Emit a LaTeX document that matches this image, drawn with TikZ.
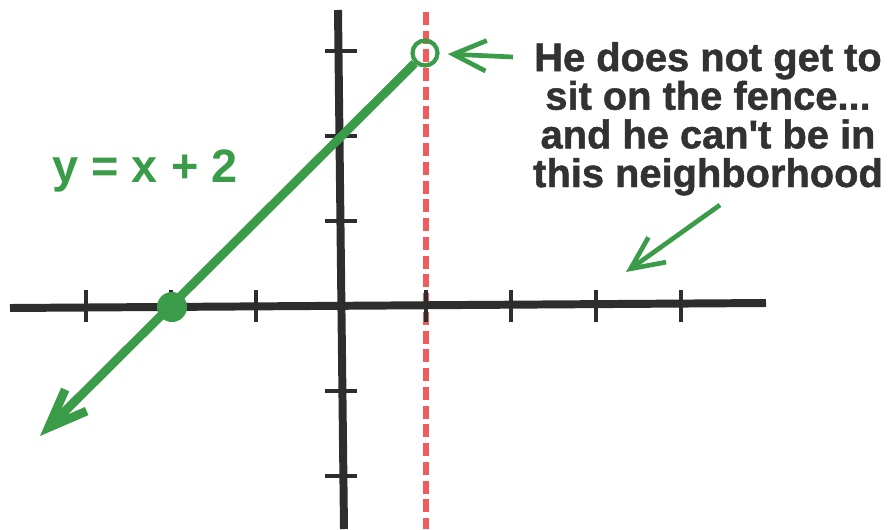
\documentclass[tikz,border=0pt]{standalone}
\usepackage{xcolor}
\usepackage{fontspec}
\setmainfont{Liberation Sans}
\newfontfamily\notefont{Liberation Sans Bold}[FakeBold=1.2]
\usetikzlibrary{arrows.meta}

\definecolor{graphgreen}{RGB}{58,155,72}
\definecolor{fencered}{RGB}{240,92,92}
\definecolor{axisgray}{RGB}{45,45,45}
\definecolor{notegray}{RGB}{50,50,50}

\begin{document}
\begin{tikzpicture}[x=0.03cm, y=-0.03cm,
  axis/.style={draw=axisgray, line width=6.8pt},
  tickmark/.style={draw=axisgray, line width=3.3pt},
  fence/.style={draw=fencered, line width=4.8pt, dash pattern=on 11pt off 5pt},
  graphline/.style={draw=graphgreen, line width=7.5pt},
  pointer/.style={draw=graphgreen, line width=4pt, -{Straight Barb[length=28pt, width=26pt]}}]
  \fill[white] (0,0) rectangle (892,529);
  \useasboundingbox (0,0) rectangle (892,529);
  % the fence
  \coordinate (fencetop) at (426,12);
  \coordinate (fencebot) at (426,529);
  \draw[fence] (fencetop) -- (fencebot);
  % axes
  \coordinate (xleft) at (10,308);
  \coordinate (xright) at (766,303);
  \coordinate (ytop) at (338,10);
  \coordinate (ybot) at (344,529);
  \draw[axis] (xleft) -- (xright);
  \draw[axis] (ytop) -- (ybot);
  \foreach \t in {-3,-2,-1,1,2,3,4}
    \draw[tickmark] ({341+85*\t},290) -- ({341+85*\t},322);
  \foreach \t in {3,2,1,-1,-2}
    \draw[tickmark] (325,{306-85*\t}) -- (357,{306-85*\t});
  % the line
  \node (hole) [circle, draw=graphgreen, line width=3.6pt, minimum size=0.75cm, inner sep=0pt] at (425,53) {};
  \coordinate (tail) at (40,436);
  \draw[graphline, -{Straight Barb[length=33pt, width=26pt]}] (hole) -- (tail);
  \node (root) [circle, fill=graphgreen, minimum size=0.9cm, inner sep=0pt] at (172,307) {};
  \node (eqn) [text=graphgreen, font=\bfseries\fontsize{40}{40}\selectfont, anchor=base] at (145,182) {y = x + 2};
  % the note
  \node (note) [align=center, text=notegray, font=\notefont\fontsize{34}{33}\selectfont, anchor=base] at (708,187) {He does not get to\\sit on the fence...\\and he can\textquotesingle t be in\\this neighborhood};
  \coordinate (ptrA) at (513,57);
  \draw[pointer, shorten >=7pt] (ptrA) -- (hole);
  \coordinate (ptrB) at (720,205);
  \coordinate (ptrBtip) at (626,272);
  \draw[pointer] (ptrB) -- (ptrBtip);
\end{tikzpicture}
\end{document}
